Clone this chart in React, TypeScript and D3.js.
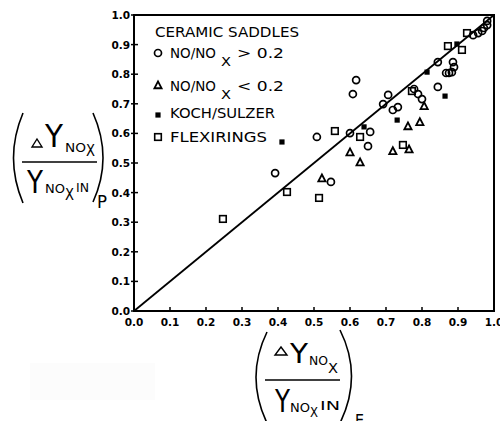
import React from "react";
import * as d3 from "d3";

// ---- data (x = predicted/E, y = P) ----
const circleX = [0.392, 0.508, 0.547, 0.600, 0.656, 0.650, 0.617, 0.608, 0.692, 0.706, 0.719, 0.733, 0.778, 0.789, 0.800, 0.844, 0.844, 0.867, 0.875, 0.883, 0.886, 0.889, 0.942, 0.956, 0.967, 0.972, 0.981, 0.981];
const circleY = [0.466, 0.588, 0.436, 0.601, 0.605, 0.557, 0.780, 0.733, 0.699, 0.730, 0.679, 0.689, 0.750, 0.733, 0.716, 0.841, 0.757, 0.804, 0.804, 0.807, 0.841, 0.824, 0.932, 0.939, 0.946, 0.956, 0.966, 0.980];
const triangleX = [0.522, 0.600, 0.628, 0.719, 0.764, 0.761, 0.794, 0.806];
const triangleY = [0.449, 0.537, 0.503, 0.541, 0.547, 0.625, 0.639, 0.693];
const kochX = [0.411, 0.639, 0.731, 0.814, 0.864, 0.897];
const kochY = [0.571, 0.622, 0.645, 0.807, 0.726, 0.902];
const flexX = [0.247, 0.425, 0.514, 0.558, 0.628, 0.747, 0.772, 0.872, 0.911, 0.925];
const flexY = [0.311, 0.402, 0.382, 0.608, 0.588, 0.561, 0.743, 0.895, 0.882, 0.939];
const ticks = [0, 0.1, 0.2, 0.3, 0.4, 0.5, 0.6, 0.7, 0.8, 0.9, 1.0];
const tickLabels = ["0.0", "0.1", "0.2", "0.3", "0.4", "0.5", "0.6", "0.7", "0.8", "0.9", "1.0"];
const legendTitle = "CERAMIC SADDLES";

const W = 500, H = 421;
const x = d3.scaleLinear().domain([0, 1]).range([134, 494]);
const y = d3.scaleLinear().domain([0, 1]).range([311, 15]);

const FONT = "DejaVu Sans, sans-serif";

function Circle({ cx, cy }: { cx: number; cy: number }) {
  return <circle cx={cx} cy={cy} r={3.5} fill="none" stroke="#000" strokeWidth={1.7} />;
}
function Tri({ cx, cy }: { cx: number; cy: number }) {
  const s = 3.6;
  return <path d={`M${cx},${cy - s}L${cx + s},${cy + s * 0.9}L${cx - s},${cy + s * 0.9}Z`} fill="none" stroke="#000" strokeWidth={1.8} strokeLinejoin="miter" />;
}
function Sq({ cx, cy }: { cx: number; cy: number }) {
  return <rect x={cx - 3.3} y={cy - 3.3} width={6.6} height={6.6} fill="none" stroke="#000" strokeWidth={1.6} />;
}
function Fill({ cx, cy }: { cx: number; cy: number }) {
  return <rect x={cx - 2.6} y={cy - 2.6} width={5.2} height={5.2} fill="#000" />;
}

function T({ x0, base, size, width, children, weight }: any) {
  return (
    <text x={x0} y={base} fontSize={size} fontFamily={FONT} fontWeight={weight || "normal"}
      textLength={width} lengthAdjust="spacingAndGlyphs" fill="#000">{children}</text>
  );
}

function Delta({ x0, y0, w, h }: any) {
  return <path d={`M${x0 + w / 2},${y0}L${x0 + w},${y0 + h}L${x0},${y0 + h}Z`} fill="none" stroke="#000" strokeWidth={1.4} />;
}

export default function App() {
  return (
    <svg width={W} height={H} style={{ position: "absolute", left: 0, top: 0, background: "#fff" }}>
      <rect x={30} y={363} width={125} height={37} fill="#fcfcfc" />
      {/* frame */}
      <path d={`M${x(0)},${y(1)}H${x(1)}V${y(0)}H${x(0)}Z`} fill="none" stroke="#000" strokeWidth={2} />
      {/* ticks */}
      {ticks.map((t, i) => (
        <g key={"t" + i}>
          <line x1={x(t)} x2={x(t)} y1={y(0) + 1} y2={y(0) - 4} stroke="#000" strokeWidth={1.5} />
          <line x1={x(0) - 3} x2={x(0) + 4} y1={y(t)} y2={y(t)} stroke="#000" strokeWidth={1.5} />
          <text x={x(t)} y={y(0) + 15} textAnchor="middle" fontSize={10.5} fontWeight="bold" fontFamily={FONT}>{tickLabels[i]}</text>
          <text x={x(0) - 4} y={y(t) + 4} textAnchor="end" fontSize={10.5} fontWeight="bold" fontFamily={FONT}>{tickLabels[i]}</text>
        </g>
      ))}
      {/* diagonal */}
      <line x1={x(0)} y1={y(0)} x2={x(1)} y2={y(1)} stroke="#000" strokeWidth={1.8} />
      {/* data */}
      {circleX.map((v, i) => <Circle key={"c" + i} cx={x(v)} cy={y(circleY[i])} />)}
      {triangleX.map((v, i) => <Tri key={"tr" + i} cx={x(v)} cy={y(triangleY[i])} />)}
      {flexX.map((v, i) => <Sq key={"s" + i} cx={x(v)} cy={y(flexY[i])} />)}
      {kochX.map((v, i) => <Fill key={"f" + i} cx={x(v)} cy={y(kochY[i])} />)}
      {/* legend */}
      <T x0={155} base={37} size={14.5} width={144}>{legendTitle}</T>
      <Circle cx={158} cy={53} />
      <T x0={170} base={58} size={14.5} width={46}>NO/NO</T>
      <T x0={221} base={66} size={12} width={10}>X</T>
      <T x0={237} base={58} size={14.5} width={47}>{"> 0.2"}</T>
      <Tri cx={158} cy={85} />
      <T x0={170} base={91} size={14.5} width={46}>NO/NO</T>
      <T x0={221} base={99} size={12} width={10}>X</T>
      <T x0={237} base={91} size={14.5} width={47}>{"< 0.2"}</T>
      <Fill cx={158} cy={115} />
      <T x0={170} base={118} size={14.5} width={105}>KOCH/SULZER</T>
      <Sq cx={158} cy={137} />
      <T x0={170} base={142} size={14.5} width={97}>FLEXIRINGS</T>

      {/* y-axis label */}
      <path d="M23,113 Q4,158 23,203" fill="none" stroke="#000" strokeWidth={1.6} />
      <Delta x0={32} y0={139} w={10} h={8} />
      <T x0={45} base={147} size={32} width={18}>Y</T>
      <T x0={65} base={152} size={12.5} width={21}>NO</T>
      <T x0={86} base={156} size={15} width={9}>X</T>
      <line x1={22} x2={97} y1={162} y2={162} stroke="#000" strokeWidth={1.6} />
      <T x0={27} base={193} size={32} width={16}>Y</T>
      <T x0={45} base={193} size={13} width={20}>NO</T>
      <T x0={65} base={200} size={15} width={9}>X</T>
      <T x0={76} base={192} size={12.5} width={13}>IN</T>
      <path d="M93,113 Q113,158 93,202" fill="none" stroke="#000" strokeWidth={1.6} />
      <T x0={97} base={208} size={18} width={10}>P</T>

      {/* x-axis label */}
      <path d="M267,332 Q245,377 267,423" fill="none" stroke="#000" strokeWidth={1.6} />
      <Delta x0={275} y0={347} w={12} h={8} />
      <T x0={290} base={363} size={27} width={18}>Y</T>
      <T x0={309} base={365} size={12.5} width={19}>NO</T>
      <T x0={328} base={373} size={14} width={10}>X</T>
      <line x1={265} x2={340} y1={380} y2={380} stroke="#000" strokeWidth={1.6} />
      <T x0={275} base={412} size={32} width={15}>Y</T>
      <T x0={290} base={412} size={13} width={20}>NO</T>
      <T x0={310} base={417} size={14} width={8}>X</T>
      <T x0={320} base={410} size={13} width={20}>IN</T>
      <path d="M340,330 Q363,376 340,423" fill="none" stroke="#000" strokeWidth={1.6} />
      <T x0={355} base={427} size={18} width={9}>E</T>
    </svg>
  );
}
